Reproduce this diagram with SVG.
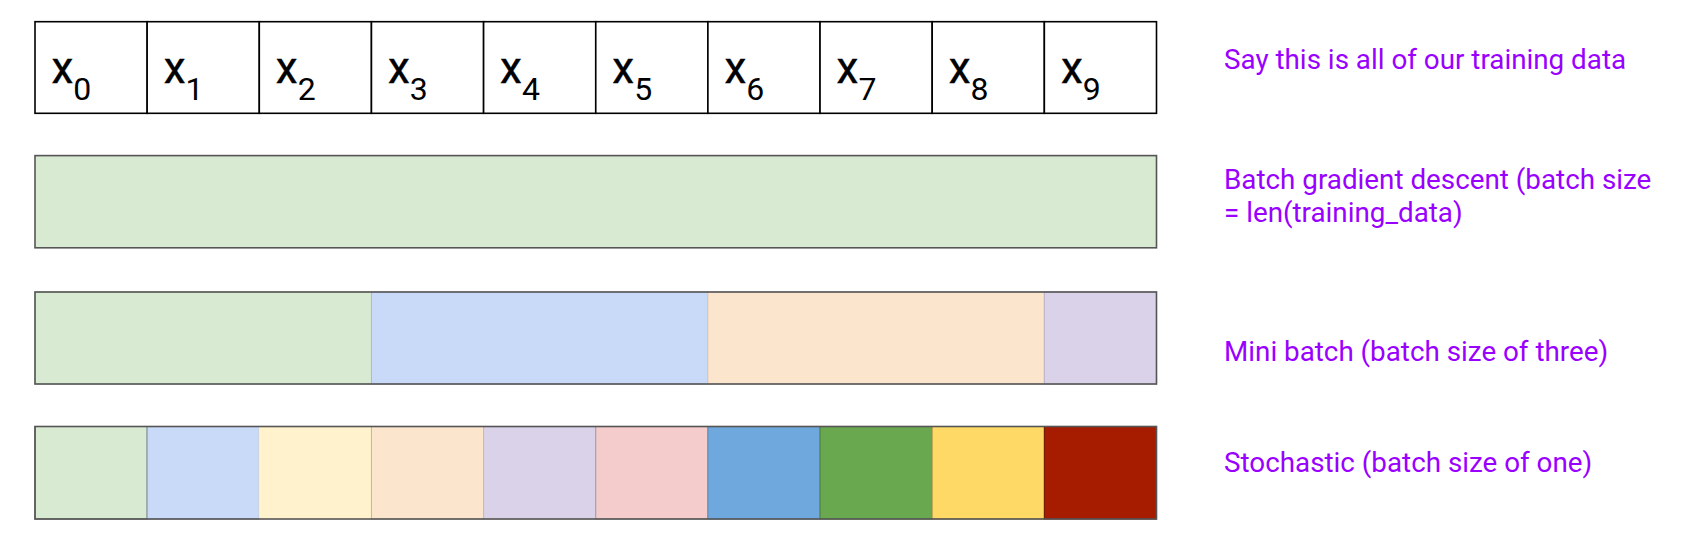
<svg xmlns="http://www.w3.org/2000/svg" width="1682" height="546" viewBox="0 0 1682 546">
<style>
.cell{fill:#ffffff;stroke:#000000;stroke-width:1.6}
.var{font-family:Roboto,"Liberation Sans",sans-serif;font-size:44px;fill:#000000;stroke:#000000;stroke-width:0.4}
.sub{font-size:32px;stroke-width:0}
.lbl{font-family:Roboto,"Liberation Sans",sans-serif;font-size:27.8px;fill:#9900ff}
.frame{fill:none;stroke:#555555;stroke-width:1.6}
.seg{stroke-width:1}
</style>
<rect width="1682" height="546" fill="#ffffff"/>
<g id="row-data">
<g id="cell-x0"><rect class="cell" x="35" y="21.7" width="112.15" height="91.6"/><text class="var" x="51.5" y="83">x<tspan class="sub" dy="16.5">0</tspan></text></g>
<g id="cell-x1"><rect class="cell" x="147.15" y="21.7" width="112.15" height="91.6"/><text class="var" x="163.7" y="83">x<tspan class="sub" dy="16.5">1</tspan></text></g>
<g id="cell-x2"><rect class="cell" x="259.3" y="21.7" width="112.15" height="91.6"/><text class="var" x="275.8" y="83">x<tspan class="sub" dy="16.5">2</tspan></text></g>
<g id="cell-x3"><rect class="cell" x="371.45" y="21.7" width="112.15" height="91.6"/><text class="var" x="388" y="83">x<tspan class="sub" dy="16.5">3</tspan></text></g>
<g id="cell-x4"><rect class="cell" x="483.6" y="21.7" width="112.15" height="91.6"/><text class="var" x="500.1" y="83">x<tspan class="sub" dy="16.5">4</tspan></text></g>
<g id="cell-x5"><rect class="cell" x="595.75" y="21.7" width="112.15" height="91.6"/><text class="var" x="612.3" y="83">x<tspan class="sub" dy="16.5">5</tspan></text></g>
<g id="cell-x6"><rect class="cell" x="707.9" y="21.7" width="112.15" height="91.6"/><text class="var" x="724.4" y="83">x<tspan class="sub" dy="16.5">6</tspan></text></g>
<g id="cell-x7"><rect class="cell" x="820.05" y="21.7" width="112.15" height="91.6"/><text class="var" x="836.6" y="83">x<tspan class="sub" dy="16.5">7</tspan></text></g>
<g id="cell-x8"><rect class="cell" x="932.2" y="21.7" width="112.15" height="91.6"/><text class="var" x="948.7" y="83">x<tspan class="sub" dy="16.5">8</tspan></text></g>
<g id="cell-x9"><rect class="cell" x="1044.35" y="21.7" width="112.15" height="91.6"/><text class="var" x="1060.9" y="83">x<tspan class="sub" dy="16.5">9</tspan></text></g>
</g>
<g id="row-batch">
<rect x="35" y="155.6" width="1121.5" height="92.2" fill="#d9ead3"/>
<rect class="frame" x="35" y="155.6" width="1121.5" height="92.2"/>
</g>
<g id="row-mini">
<rect class="seg" x="35" y="292" width="336.45" height="92" fill="#d9ead3" stroke="#b6c8b0"/>
<rect class="seg" x="371.45" y="292" width="336.45" height="92" fill="#c9daf8" stroke="#aab9d6"/>
<rect class="seg" x="707.9" y="292" width="336.45" height="92" fill="#fce5cd" stroke="#e0c9b2"/>
<rect class="seg" x="1044.35" y="292" width="112.15" height="92" fill="#d9d2e9" stroke="#b9b2c9"/>
<rect class="frame" x="35" y="292" width="1121.5" height="92"/>
</g>
<g id="row-stochastic">
<rect class="seg" x="35" y="426.5" width="112.15" height="92.5" fill="#d9ead3" stroke="#555555"/>
<rect class="seg" x="147.15" y="426.5" width="112.15" height="92.5" fill="#c9daf8" stroke="#8f9db6"/>
<rect class="seg" x="259.3" y="426.5" width="112.15" height="92.5" fill="#fff2cc" stroke="#fff2cc"/>
<rect class="seg" x="371.45" y="426.5" width="112.15" height="92.5" fill="#fce5cd" stroke="#c8b49f"/>
<rect class="seg" x="483.6" y="426.5" width="112.15" height="92.5" fill="#d9d2e9" stroke="#c9b9b6"/>
<rect class="seg" x="595.75" y="426.5" width="112.15" height="92.5" fill="#f4cccc" stroke="#a89696"/>
<rect class="seg" x="707.9" y="426.5" width="112.15" height="92.5" fill="#6fa8dc" stroke="#5b87b0"/>
<rect class="seg" x="820.05" y="426.5" width="112.15" height="92.5" fill="#6aa84f" stroke="#4f7d3b"/>
<rect class="seg" x="932.2" y="426.5" width="112.15" height="92.5" fill="#ffd966" stroke="#b89c4a"/>
<rect class="seg" x="1044.35" y="426.5" width="112.15" height="92.5" fill="#a61c00" stroke="#6e1200"/>
<rect class="frame" x="35" y="426.5" width="1121.5" height="92.5"/>
</g>
<g id="labels">
<text id="label-data" class="lbl" x="1224" y="69.3">Say this is all of our training data</text>
<text id="label-batch" class="lbl" x="1224" y="189.3">Batch gradient descent (batch size<tspan x="1224" y="221.7">= len(training_data)</tspan></text>
<text id="label-mini" class="lbl" x="1224" y="361">Mini batch (batch size of three)</text>
<text id="label-stochastic" class="lbl" x="1224" y="472.3">Stochastic (batch size of one)</text>
</g>
<g id="connectors"/>
</svg>
